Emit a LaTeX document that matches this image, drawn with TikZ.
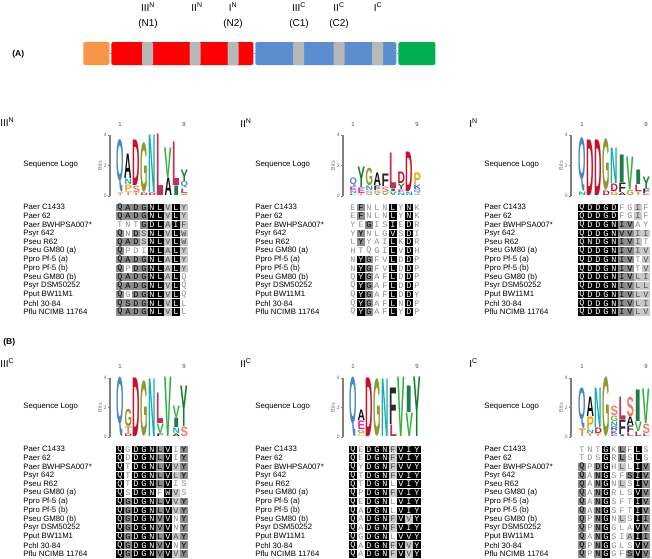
\documentclass[tikz,border=0pt]{standalone}
\usepackage{fontspec}
\setmainfont{Liberation Sans}
\newfontfamily\resfont{Liberation Mono}
\usepackage{graphicx}
\usetikzlibrary{positioning}

\definecolor{domorange}{HTML}{F79646}
\definecolor{domred}{HTML}{FF0000}
\definecolor{domblue}{HTML}{5B8ED0}
\definecolor{domgreen}{HTML}{00B050}
\definecolor{motifgray}{HTML}{B8B8B8}
\definecolor{resdark}{HTML}{8C8C8C}
\definecolor{reslight}{HTML}{C8C8C8}
\definecolor{lgQ}{HTML}{4A88C4}
\definecolor{lgA}{HTML}{111111}
\definecolor{lgD}{HTML}{C8102E}
\definecolor{lgG}{HTML}{8E9A2C}
\definecolor{lgN}{HTML}{12AEB0}
\definecolor{lgL}{HTML}{C2305C}
\definecolor{lgV}{HTML}{34B040}
\definecolor{lgI}{HTML}{1F7A4C}
\definecolor{lgY}{HTML}{14802E}
\definecolor{lgF}{HTML}{2A2A2A}
\definecolor{lgP}{HTML}{F0A800}
\definecolor{lgS}{HTML}{F07868}
\definecolor{lgT}{HTML}{F08838}
\definecolor{lgE}{HTML}{E020D0}
\definecolor{lgK}{HTML}{3C5AF0}
\definecolor{lgR}{HTML}{3A4CE0}
\definecolor{lgC}{HTML}{E0C020}
\definecolor{lgW}{HTML}{44A044}
\definecolor{lgH}{HTML}{4060F0}

\tikzset{every picture/.style={line width=0.75pt}}
\tikzset{
  dom/.style={anchor=west, minimum height=23pt, inner sep=0pt, rounded corners=2pt},
  motif/.style={fill=motifgray, minimum width=11pt, minimum height=23pt, inner sep=0pt, rounded corners=1pt},
  domlink/.style={draw=gray, line width=0.6pt},
  domlab/.style={font=\fontsize{10}{12}\selectfont, inner sep=0pt},
  panel/.style={font=\bfseries\fontsize{8.5}{10}\selectfont, anchor=west, inner sep=0pt},
  hdr/.style={font=\fontsize{10}{12}\selectfont, anchor=west, inner sep=0pt},
  strain/.style={font=\fontsize{7.8}{9}\selectfont, anchor=west, inner sep=0pt},
  rescell/.style={minimum width=8pt, minimum height=7.6pt, inner sep=0pt, font=\resfont\fontsize{8.5}{8.5}\selectfont},
  resb/.style={rescell, fill=black, text=white},
  resd/.style={rescell, fill=resdark, text=black},
  resl/.style={rescell, fill=reslight, text=black!70},
  resw/.style={rescell, text=black!45},
  lgletter/.style={anchor=south west, inner sep=0pt, font=\bfseries},
  lgaxis/.style={draw=gray, line width=1.2pt},
  lgtick/.style={font=\fontsize{5}{5}\selectfont, text=black!60, inner sep=1pt, anchor=east},
  lgbits/.style={font=\fontsize{5.5}{6}\selectfont, text=black!55, rotate=90, inner sep=0pt},
  lgnum/.style={font=\fontsize{6}{6}\selectfont, text=black!70, inner sep=0pt}
}

\def\strainlist{Paer C1433,Paer 62,Paer BWHPSA007*,Psyr 642,Pseu R62,Pseu GM80 (a),Ppro Pf-5 (a),Ppro Pf-5 (b),Pseu GM80 (b),Psyr DSM50252,Pput BW11M1,Pchl 30-84,Pflu NCIMB 11764}

\def\alcell#1#2\relax{\node[res#2] (\alpfx-\ri-\ci) at ({\alxo+8*\ci-4},{\alyo+8.72*(\ri-1)}) {#1};}
\newcommand\alpanel[5]{%
  \def\alpfx{#1}\def\alxo{#3}\def\alyo{#4}%
  \foreach \nm [count=\ri] in \strainlist {\node[strain] (#1n\ri) at (#2,{#4+8.72*(\ri-1)}) {\nm};}%
  \foreach \rw [count=\ri] in #5 {\foreach \alc [count=\ci] in \rw {\expandafter\alcell\alc\relax}}%
}
\newcommand\seqlogo[4]{%
  \foreach \lgcol [count=\k] in {#4} {%
    \xdef\lgbase{#3}%
    \foreach \lt/\lh [count=\j] in \lgcol {%
      \pgfmathsetmacro\lgh{max(\lh-0.5,0.8)}%
      \node[lgletter, text=lg\lt] (#1-\k-\j) at ({#2+0.3+8*(\k-1)},{\lgbase-0.25}) {\resizebox*{7.4pt}{\lgh pt}{\lt}};
      \pgfmathsetmacro\lgnext{\lgbase-\lh}\xdef\lgbase{\lgnext}%
    }%
  }%
}
\newcommand\logoaxis[6]{%
  \coordinate (#1-b) at (#2,#4);
  \coordinate (#1-t) at (#2,#5);
  \draw[lgaxis] (#1-b) -- (#1-t);
  \foreach \tk/\tv in {0/#4,2/{(#4+#5)/2},4/#5} {\draw[gray, line width=0.5pt] ({#2},{\tv}) -- ++(-2,0) node[lgtick] (#1-k\tk) {\tk};}
  \node[lgbits] (#1-bits) at ({#2-10},{(#4+#5)/2}) {Bits};
  \node[lgnum] (#1-one) at ({#3+4},#6) {1};
  \node[lgnum] (#1-nine) at ({#3+68},#6) {9};
}

\def\rowsTL{{Qd,Ad,Dd,Gd,Nb,Lb,Vl,Lb,Yl},{Qd,Ad,Dd,Gd,Nb,Lb,Vl,Lb,Yl},{Tw,Nw,Tw,Gd,Db,Lb,Al,Ib,Fl},{Qd,Nw,Dd,Sl,Nb,Lb,Vl,Lb,Wl},{Qd,Ad,Dd,Sl,Nb,Lb,Vl,Lb,Wl},{Qd,Pw,Dw,Iw,Nb,Lb,Al,Lb,Yl},{Qd,Ad,Dd,Gd,Nb,Lb,Al,Lb,Yl},{Qd,Pw,Dd,Gd,Nb,Lb,Al,Lb,Yl},{Qd,Ad,Dd,Gd,Nb,Lb,Al,Lb,Qw},{Qd,Ad,Dd,Gd,Nb,Lb,Vl,Lb,Qw},{Qd,Gw,Dd,Gd,Nb,Lb,Vl,Lb,Qw},{Qd,Sd,Dd,Gd,Nb,Lb,Vl,Lb,Lw},{Qd,Ad,Dd,Gd,Nb,Lb,Vl,Lb,Lw}}
\def\rowsTM{{Ew,Fd,Nw,Lw,Nw,Lb,Yw,Nb,Kw},{Ew,Fd,Nw,Lw,Nw,Lb,Yw,Nb,Kw},{Yw,Ew,Gd,Iw,Sw,Ib,Ew,Db,Rw},{Yw,Yd,Nw,Lw,Gw,Vb,Sw,Db,Iw},{Lw,Yd,Yw,Aw,Iw,Lb,Kw,Db,Rw},{Hw,Tw,Qw,Gw,Iw,Lb,Vw,Db,Hw},{Nw,Yb,Gd,Fw,Vw,Lb,Dw,Db,Pw},{Nw,Yb,Gd,Fw,Vw,Lb,Dw,Db,Pw},{Qw,Yb,Gd,Aw,Fw,Lb,Dw,Db,Pw},{Qw,Yb,Gd,Aw,Fw,Lb,Dw,Db,Pw},{Qw,Yb,Gd,Aw,Fw,Lb,Dw,Db,Yw},{Qw,Yb,Gd,Aw,Fw,Lb,Nw,Db,Pw},{Qw,Yb,Gd,Aw,Fw,Lb,Yw,Db,Pw}}
\def\rowsTR{{Qb,Db,Db,Gb,Db,Fw,Gw,Il,Fw},{Qb,Db,Db,Gb,Db,Fw,Gw,Il,Fw},{Qb,Db,Db,Gb,Nb,Id,Vd,Aw,Yw},{Qb,Db,Db,Gb,Nb,Vd,Vd,Il,Il},{Qb,Nb,Db,Gb,Nb,Id,Vd,Il,Tw},{Qb,Db,Db,Gb,Nb,Id,Vd,Il,Vl},{Qb,Db,Db,Gb,Nb,Id,Vd,Tw,Vl},{Qb,Db,Db,Gb,Nb,Id,Vd,Tw,Vl},{Qb,Db,Db,Gb,Nb,Id,Vd,Ll,Il},{Qb,Db,Db,Gb,Nb,Id,Vd,Ll,Ll},{Qb,Db,Db,Gb,Nb,Id,Vd,Ll,Vl},{Qb,Db,Db,Gb,Nb,Id,Vd,Ll,Il},{Qb,Db,Db,Gb,Nb,Id,Vd,Ll,Vl}}
\def\rowsBL{{Qb,Gw,Db,Gb,Nb,Ld,Vb,Iw,Yd},{Qb,Dw,Db,Gb,Nb,Ld,Vb,Iw,Yd},{Qb,Tw,Db,Gb,Nb,Ld,Vb,Vl,Yd},{Qb,Tw,Db,Gb,Nb,Ld,Vb,Ll,Yd},{Qb,Tw,Db,Gb,Nb,Ld,Vb,Iw,Sw},{Qb,Sw,Db,Gb,Nb,Fw,Wb,Vl,Sw},{Qb,Gd,Db,Gb,Nb,Ld,Vb,Vl,Yd},{Qb,Gd,Db,Gb,Nb,Ld,Vb,Vl,Yd},{Qb,Gd,Db,Gb,Nb,Vd,Vb,Nw,Yd},{Qb,Gd,Db,Gb,Nb,Vd,Vb,Nw,Yd},{Qb,Gd,Db,Gb,Nb,Ld,Vb,Al,Yd},{Qb,Gd,Db,Gb,Nb,Vd,Vb,Nw,Yd},{Qb,Gd,Db,Gb,Nb,Vd,Vb,Vl,Yd}}
\def\rowsBM{{Qb,Ew,Db,Gb,Nb,Fl,Vb,Ib,Yb},{Qb,Ew,Db,Gb,Nb,Fl,Vb,Ib,Yb},{Qb,Yw,Db,Gb,Nb,Fl,Vb,Vb,Yb},{Qb,Tw,Db,Gb,Nb,Fl,Vb,Ib,Yb},{Qb,Tw,Db,Gb,Nb,Lw,Vb,Ib,Yb},{Qb,Pw,Db,Gb,Nb,Fl,Vb,Ib,Yb},{Qb,Ew,Db,Gb,Nb,Lw,Vb,Ib,Yb},{Qb,Aw,Db,Gb,Nb,Lw,Vb,Ib,Yb},{Qb,Aw,Db,Gb,Nb,Fl,Vb,Vl,Yb},{Qb,Aw,Db,Gb,Nb,Fl,Vb,Ib,Yb},{Qb,Gw,Db,Gb,Nb,Lw,Vb,Vb,Yb},{Qb,Aw,Db,Gb,Nb,Fl,Vb,Vl,Yb},{Qb,Aw,Db,Gb,Nb,Fl,Vb,Vl,Yb}}
\def\rowsBR{{Tw,Nw,Tw,Gb,Kw,Ld,Fw,Lb,Sw},{Tw,Dw,Sw,Gb,Rw,Ld,Sw,Lb,Sw},{Qd,Pw,Dd,Gb,Hw,Ll,Lw,Ib,Vd},{Qd,Aw,Nd,Gb,Sw,Fw,Sd,Ib,Vd},{Qd,Aw,Nd,Gb,Nw,Ll,Sw,Ib,Vd},{Qd,Aw,Nd,Gb,Rw,Lw,Sw,Vb,Vd},{Qd,Aw,Nd,Gb,Sw,Fw,Tw,Ib,Vd},{Qd,Aw,Nd,Gb,Sw,Fw,Tw,Ib,Vd},{Qd,Pw,Nd,Gb,Nw,Ll,Sw,Ib,Id},{Qd,Pw,Nd,Gb,Gw,Lw,Aw,Vb,Vd},{Qd,Aw,Nd,Gb,Sw,Iw,Al,Ib,Id},{Qd,Pw,Nd,Gb,Gw,Lw,Sw,Vb,Vd},{Qd,Pw,Nd,Gb,Gw,Fw,Sd,Vb,Vd}}

\begin{document}
\begin{tikzpicture}[x=1pt, y=-1pt]
  \useasboundingbox (0,0) rectangle (652,558);

  \node[panel] (pA) at (12,54) {(A)};
  \node[dom, fill=domorange, minimum width=26pt] (dorange) at (83,53.5) {};
  \node[dom, fill=domred, minimum width=142pt] (dred) at (111,53.5) {};
  \node[dom, fill=domblue, minimum width=141pt] (dblue) at (255,53.5) {};
  \node[dom, fill=domgreen, minimum width=37pt] (dgreen) at (398,53.5) {};
  \draw[domlink] (dorange) -- (dred);
  \draw[domlink] (dred) -- (dblue);
  \draw[domlink] (dblue) -- (dgreen);
  \node[motif] (mIIIN) at (147.5,53.5) {};
  \node[motif] (mIIN) at (195,53.5) {};
  \node[motif] (mIN) at (233,53.5) {};
  \node[motif] (mIIIC) at (298.5,53.5) {};
  \node[motif] (mIIC) at (339,53.5) {};
  \node[motif] (mIC) at (377.5,53.5) {};
  \node[domlab] (tIIIN) at (148,7) {III\textsuperscript{N}};
  \node[domlab] (tIIN) at (197,7) {II\textsuperscript{N}};
  \node[domlab] (tIN) at (233,7) {I\textsuperscript{N}};
  \node[domlab] (tIIIC) at (299,7) {III\textsuperscript{C}};
  \node[domlab] (tIIC) at (339,7) {II\textsuperscript{C}};
  \node[domlab] (tIC) at (378,7) {I\textsuperscript{C}};
  \node[domlab] (cN1) at (148,24) {(N1)};
  \node[domlab] (cN2) at (233,24) {(N2)};
  \node[domlab] (cC1) at (299,24) {(C1)};
  \node[domlab] (cC2) at (339,24) {(C2)};

  \node[hdr] (hIIIN) at (0,122) {III\textsuperscript{N}};
  \node[hdr] (hIIN) at (240,123) {II\textsuperscript{N}};
  \node[hdr] (hIN) at (469,123) {I\textsuperscript{N}};
  \node[panel] (pB) at (3,342) {(B)};
  \node[hdr] (hIIIC) at (0,363) {III\textsuperscript{C}};
  \node[hdr] (hIIC) at (240,363) {II\textsuperscript{C}};
  \node[hdr] (hIC) at (469,363) {I\textsuperscript{C}};

  \node[strain] (sTL) at (23,165) {Sequence Logo};
  \node[strain] (sTM) at (255,165) {Sequence Logo};
  \node[strain] (sTR) at (484,165) {Sequence Logo};
  \node[strain] (sBL) at (23,407) {Sequence Logo};
  \node[strain] (sBM) at (255,407) {Sequence Logo};
  \node[strain] (sBR) at (484,407) {Sequence Logo};

  \logoaxis{xTL}{110}{116}{196}{135}{124}
  \logoaxis{xTM}{343}{349}{196}{135}{124}
  \logoaxis{xTR}{571}{578}{196}{135}{124}
  \logoaxis{xBL}{110}{116}{437}{378}{366}
  \logoaxis{xBM}{343}{349}{437}{378}{366}
  \logoaxis{xBR}{571}{578}{437}{378}{366}

  \seqlogo{gTL}{116}{196}{{T/3,Q/53},{T/4,P/7,N/6,A/25},{T/3,S/7,D/46},{D/3,G/50},{D/3,N/58},{L/62},{A/18,V/30},{I/10,L/44},{W/2,L/5,Q/7,Y/12}}
  \seqlogo{gTM}{349}{196}{{L/2,N/3,E/4,Q/9},{T/2,E/6,Y/21},{V/2,S/3,N/5,G/18},{Y/2,S/3,F/5,A/13},{V/3,S/6,F/13},{V/4,I/3,L/36},{N/3,E/3,Y/6,D/12},{N/4,D/40},{S/2,Q/4,K/5,P/12}}
  \seqlogo{gTR}{578}{196}{{N/4,Q/54},{D/56},{D/56},{D/5,G/52},{G/4,D/8,N/36},{A/3,F/10,I/28},{G/6,V/33},{T/4,L/7,I/15},{E/2,F/5,Y/12}}
  \seqlogo{gBL}{116}{437}{{Q/60},{D/3,T/7,G/18},{D/59},{G/56},{N/58},{F/3,V/10,L/31},{V/60},{A/3,N/6,I/10,V/12},{S/10,Y/41}}
  \seqlogo{gBM}{349}{437}{{Q/60},{C/3,G/4,E/9,A/11},{D/59},{G/58},{N/58},{L/12,F/37},{V/60},{V/24,I/27},{Y/60}}
  \seqlogo{gBR}{578}{437}{{T/8,Q/41},{T/3,N/4,P/13,A/20},{T/3,D/6,N/40},{G/60},{E/2,K/4,R/4,N/5,G/6,S/10},{I/2,F/15,L/23},{L/4,F/7,A/9,S/20},{L/5,V/10,I/32},{L/3,S/10,V/35}}

  \alpanel{aTL}{23}{116}{207.3}{\rowsTL}
  \alpanel{aTM}{255}{349}{207.3}{\rowsTM}
  \alpanel{aTR}{484}{578}{207.3}{\rowsTR}
  \alpanel{aBL}{23}{116}{449.3}{\rowsBL}
  \alpanel{aBM}{255}{349}{449.3}{\rowsBM}
  \alpanel{aBR}{484}{578}{449.3}{\rowsBR}
\end{tikzpicture}
\end{document}
